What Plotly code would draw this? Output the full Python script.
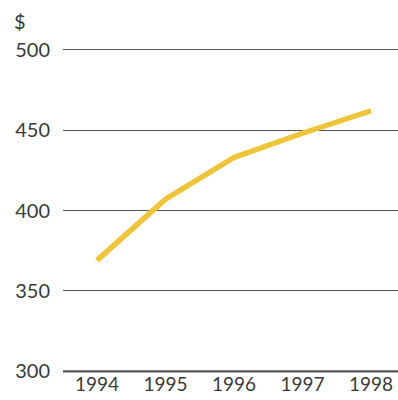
import plotly.graph_objects as go

years = [1994, 1995, 1996, 1997, 1998]
values = [369, 407, 433, 448, 462]
y_ticks = [300, 350, 400, 450, 500]
x_tick_labels = ["1994", "1995", "1996", "1997", "1998"]

fig = go.Figure()
fig.add_trace(go.Scatter(
    x=years, y=values, mode="lines",
    line=dict(color="#EEC43A", width=5.5),
    hoverinfo="skip", showlegend=False,
))

font_family = "Lato, 'Open Sans', sans-serif"

fig.update_layout(
    width=398, height=400,
    margin=dict(l=63, r=0, t=48, b=27),
    paper_bgcolor="white", plot_bgcolor="white",
    font=dict(family=font_family, size=20, color="#3a3a3a"),
    xaxis=dict(
        range=[1993.504, 1998.394],
        tickmode="array", tickvals=years, ticktext=x_tick_labels,
        showgrid=False, zeroline=False, automargin=False,
        showline=False,
        ticks="", ticklabelstandoff=-2,
        tickfont=dict(size=19, color="#3a3a3a"),
    ),
    yaxis=dict(
        range=[299, 501],
        tickmode="array", tickvals=y_ticks,
        showgrid=True, gridcolor="#555555", gridwidth=1.2,
        zeroline=False, showline=False, automargin=False,
        ticks="", ticklabelstandoff=12,
        tickfont=dict(size=20, color="#3a3a3a"),
    ),
    shapes=[dict(
        type="line", xref="paper", yref="y",
        x0=0, x1=1, y0=y_ticks[0], y1=y_ticks[0],
        line=dict(color="#555555", width=2.2),
    )],
    annotations=[dict(
        text="$", xref="paper", yref="paper",
        x=(20 - 63) / 325 * 0 + (20 - 63) / 335, y=1 + (48 - 21) / 325,
        xanchor="center", yanchor="middle", showarrow=False,
        font=dict(family=font_family, size=20, color="#3a3a3a"),
    )],
)

fig.write_html("out.html")
